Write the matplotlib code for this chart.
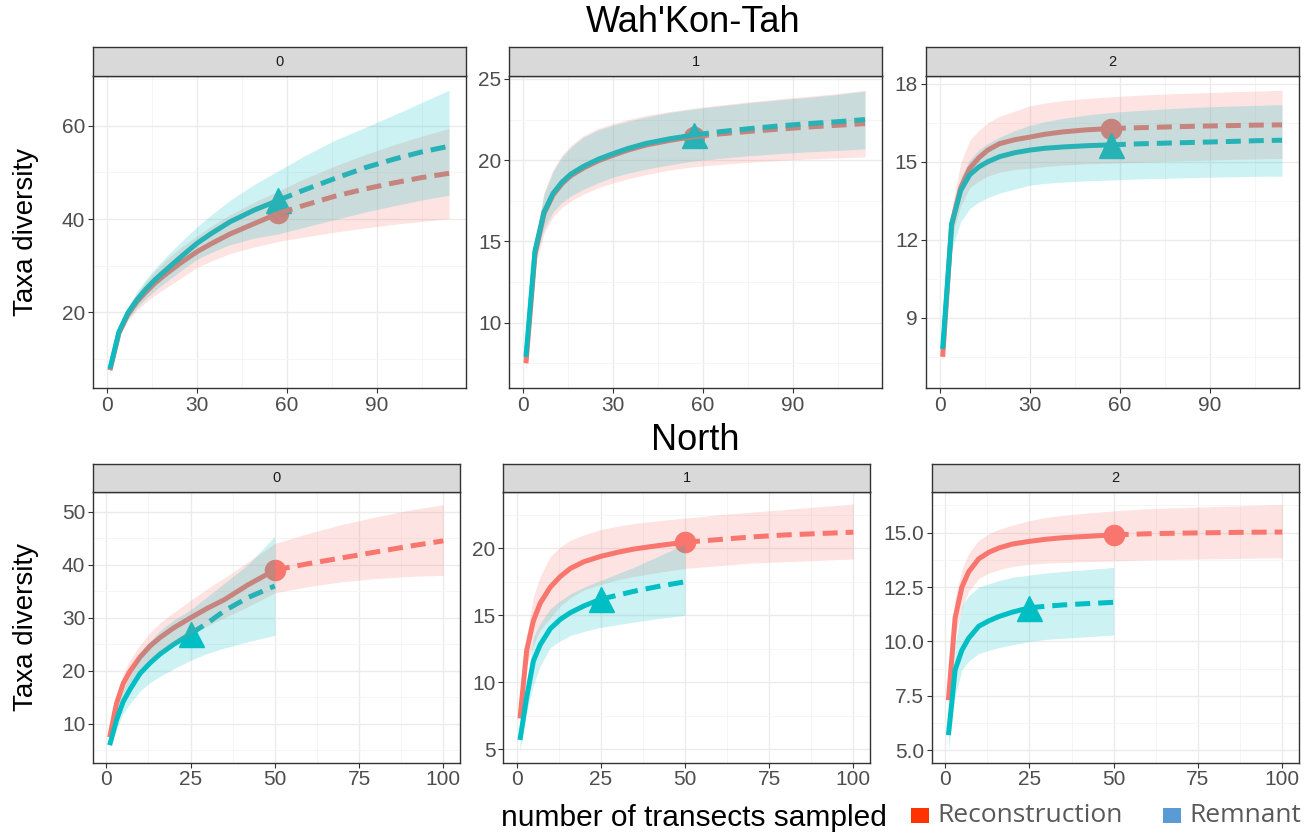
import matplotlib
matplotlib.use("Agg")
import matplotlib.pyplot as plt
from matplotlib.patches import Rectangle

plt.rcParams["font.family"] = ["Liberation Sans", "DejaVu Sans"]

REC_COL = "#F8766D"
REM_COL = "#00BFC4"

# Wah'Kon-Tah: both site types have 57 transects, extrapolated to 114
wkt_x = [1, 4, 7, 10, 13, 16, 20, 25, 30, 35, 41, 49, 57, 66, 76, 86, 96, 105, 114]
wkt_obs_rec = 57
wkt_obs_rem = 57

wkt0_rec = [7.6, 15.6, 19.6, 22.3, 24.4, 26.3, 28.4, 30.8, 33.0, 34.8, 36.8, 39.0, 41.2, 43.0, 44.9, 46.45, 47.8, 48.9, 49.8]
wkt0_rec_lo = [6.9, 14.8, 18.3, 20.5, 22.2, 23.7, 25.4, 27.5, 29.6, 31.1, 32.6, 34.0, 35.2, 36.2, 37.2, 38.1, 38.9, 39.5, 40.1]
wkt0_rec_hi = [7.8, 16.4, 20.9, 24.1, 26.6, 28.9, 31.4, 34.1, 36.4, 38.6, 40.9, 43.6, 46.0, 48.7, 51.4, 53.8, 56.0, 57.8, 59.4]
wkt0_rem = [7.9, 15.8, 19.9, 22.7, 25.0, 27.0, 29.3, 32.1, 34.8, 37.0, 39.4, 41.9, 44.0, 46.3, 48.7, 51.0, 52.9, 54.4, 55.6]
wkt0_rem_lo = [7.5, 15.0, 18.6, 21.0, 23.0, 24.7, 26.7, 29.1, 31.4, 32.9, 34.5, 35.9, 36.8, 38.3, 39.9, 41.5, 42.9, 44.1, 45.1]
wkt0_rem_hi = [8.1, 16.6, 21.2, 24.4, 27.1, 29.4, 32.1, 35.3, 38.3, 41.0, 44.0, 47.4, 50.3, 53.6, 56.9, 59.6, 62.4, 65.0, 67.6]

wkt1_rec = [7.5, 14.2, 16.7, 17.85, 18.55, 19.05, 19.5, 19.95, 20.3, 20.62, 20.93, 21.22, 21.45, 21.62, 21.78, 21.92, 22.05, 22.15, 22.25]
wkt1_rec_lo = [6.9, 13.4, 15.5, 16.5, 17.1, 17.5, 17.9, 18.3, 18.6, 18.85, 19.12, 19.4, 19.6, 19.74, 19.88, 20.0, 20.08, 20.14, 20.2]
wkt1_rec_hi = [7.6, 15.0, 18.0, 19.4, 20.3, 20.9, 21.5, 21.95, 22.25, 22.5, 22.75, 23.0, 23.2, 23.4, 23.6, 23.78, 23.95, 24.1, 24.3]
wkt1_rem = [7.9, 14.4, 16.8, 17.95, 18.65, 19.15, 19.6, 20.05, 20.4, 20.72, 21.03, 21.32, 21.55, 21.76, 21.95, 22.12, 22.26, 22.37, 22.5]
wkt1_rem_lo = [7.7, 13.8, 15.8, 16.8, 17.4, 17.8, 18.2, 18.6, 18.95, 19.2, 19.45, 19.72, 19.95, 20.12, 20.28, 20.41, 20.52, 20.6, 20.7]
wkt1_rem_hi = [8.0, 15.0, 17.9, 19.3, 20.2, 20.8, 21.4, 21.85, 22.15, 22.4, 22.65, 22.95, 23.15, 23.35, 23.55, 23.72, 23.88, 24.05, 24.25]

wkt2_rec = [7.5, 12.6, 14.0, 14.75, 15.15, 15.45, 15.7, 15.85, 15.95, 16.06, 16.15, 16.23, 16.28, 16.31, 16.34, 16.37, 16.39, 16.41, 16.42]
wkt2_rec_lo = [7.4, 12.1, 13.3, 14.0, 14.25, 14.45, 14.6, 14.7, 14.75, 14.82, 14.87, 14.92, 14.95, 14.98, 15.02, 15.05, 15.09, 15.11, 15.13]
wkt2_rec_hi = [7.6, 13.2, 14.95, 15.83, 16.2, 16.5, 16.75, 16.95, 17.15, 17.26, 17.35, 17.44, 17.5, 17.56, 17.61, 17.65, 17.69, 17.72, 17.75]
wkt2_rem = [7.8, 12.6, 13.9, 14.5, 14.8, 15.0, 15.2, 15.35, 15.45, 15.52, 15.57, 15.62, 15.65, 15.69, 15.72, 15.75, 15.78, 15.81, 15.83]
wkt2_rem_lo = [7.7, 11.6, 12.7, 13.2, 13.45, 13.62, 13.8, 13.95, 14.1, 14.17, 14.22, 14.27, 14.3, 14.34, 14.37, 14.4, 14.42, 14.44, 14.45]
wkt2_rem_hi = [7.9, 12.9, 14.4, 15.07, 15.45, 15.7, 15.95, 16.2, 16.4, 16.54, 16.67, 16.8, 16.9, 16.97, 17.04, 17.1, 17.14, 17.17, 17.2]

# North: 50 reconstruction transects, 25 remnant transects
north_rec_x = [1, 3, 5, 7, 10, 13, 16, 20, 25, 30, 35, 42, 50, 60, 70, 80, 90, 100]
north_rem_x = [1, 3, 5, 7, 10, 13, 16, 20, 25, 30, 35, 42, 50]
north_obs_rec = 50
north_obs_rem = 25

north0_rec = [7.5, 13.8, 17.6, 19.9, 22.6, 24.7, 26.3, 28.1, 30.0, 31.8, 33.4, 36.2, 39.0, 40.2, 41.3, 42.4, 43.5, 44.5]
north0_rec_lo = [7.3, 12.6, 15.8, 17.8, 20.3, 22.1, 23.5, 25.1, 26.9, 28.5, 30.0, 32.1, 34.7, 35.9, 36.8, 37.4, 37.8, 38.0]
north0_rec_hi = [7.7, 15.0, 19.4, 22.0, 24.9, 27.2, 29.1, 31.0, 33.3, 35.5, 37.5, 40.5, 44.0, 45.9, 47.6, 49.0, 50.3, 51.3]
north0_rem = [6.0, 10.7, 14.2, 16.5, 19.5, 21.5, 23.2, 25.0, 27.0, 29.0, 31.3, 33.8, 36.0]
north0_rem_lo = [5.8, 9.0, 12.0, 13.8, 16.2, 17.8, 19.0, 20.4, 22.0, 23.3, 24.3, 25.5, 26.7]
north0_rem_hi = [6.2, 12.4, 16.4, 19.2, 23.4, 25.6, 27.6, 29.6, 31.5, 34.0, 36.5, 40.0, 45.4]

north1_rec = [7.3, 12.4, 14.6, 15.9, 17.1, 17.9, 18.5, 19.0, 19.4, 19.7, 19.95, 20.2, 20.45, 20.65, 20.85, 21.0, 21.1, 21.2]
north1_rec_lo = [7.2, 11.3, 12.8, 13.9, 14.8, 15.7, 16.3, 16.9, 17.3, 17.65, 17.9, 18.2, 18.5, 18.7, 18.9, 19.0, 19.1, 19.2]
north1_rec_hi = [7.4, 13.5, 16.4, 17.9, 19.4, 20.1, 20.6, 21.0, 21.4, 21.65, 21.85, 22.05, 22.25, 22.5, 22.7, 22.9, 23.1, 23.3]
north1_rem = [5.7, 8.9, 11.6, 12.8, 14.0, 14.7, 15.2, 15.7, 16.2, 16.5, 16.8, 17.15, 17.5]
north1_rem_lo = [4.9, 7.8, 9.8, 11.2, 12.6, 13.1, 13.5, 13.8, 14.1, 14.3, 14.5, 14.75, 15.0]
north1_rem_hi = [5.8, 10.0, 13.4, 14.4, 15.5, 16.1, 16.6, 17.1, 17.6, 18.1, 18.6, 19.4, 20.3]

north2_rec = [7.3, 11.1, 12.5, 13.2, 13.8, 14.1, 14.3, 14.48, 14.6, 14.7, 14.77, 14.83, 14.9, 14.95, 14.98, 15.0, 15.02, 15.03]
north2_rec_lo = [7.2, 10.3, 11.5, 12.3, 12.9, 13.15, 13.3, 13.45, 13.55, 13.6, 13.63, 13.67, 13.7, 13.75, 13.78, 13.8, 13.83, 13.85]
north2_rec_hi = [7.4, 12.0, 13.3, 14.05, 14.65, 14.95, 15.15, 15.35, 15.55, 15.7, 15.8, 15.9, 16.0, 16.1, 16.15, 16.2, 16.25, 16.3]
north2_rem = [5.7, 8.7, 9.6, 10.15, 10.7, 10.95, 11.15, 11.35, 11.55, 11.62, 11.68, 11.74, 11.8]
north2_rem_lo = [5.0, 7.5, 8.7, 9.1, 9.45, 9.6, 9.72, 9.85, 10.0, 10.1, 10.15, 10.22, 10.3]
north2_rem_hi = [5.8, 9.9, 11.6, 12.1, 12.5, 12.65, 12.8, 12.95, 13.05, 13.15, 13.22, 13.3, 13.4]

facet_labels = ["0", "1", "2"]
site_titles = ["Wah'Kon-Tah", "North"]
legend_labels = ["Reconstruction", "Remnant"]

W, H = 1310, 836
fig = plt.figure(figsize=(W / 100, H / 100), dpi=100)


def px_box(x0, x1, ytop, ybot):
    return [x0 / W, 1 - ybot / H, (x1 - x0) / W, (ybot - ytop) / H]


# panel pixel boxes: (left, right) per column, (strip top, plot top, plot bottom) per row
cols_top = [(93, 466), (509, 882), (925.7, 1299)]
cols_bot = [(93, 460), (503.3, 870), (931.7, 1299)]
row_top = (47, 76, 388)
row_bot = (463.7, 492, 762.7)

panels = [
    dict(xs=(wkt_x, wkt_x), obs=(wkt_obs_rec, wkt_obs_rem),
         rec=(wkt0_rec, wkt0_rec_lo, wkt0_rec_hi), rem=(wkt0_rem, wkt0_rem_lo, wkt0_rem_hi),
         ylim=(3.8, 70.65), yt=[20, 40, 60], ym=[10, 30, 50, 70]),
    dict(xs=(wkt_x, wkt_x), obs=(wkt_obs_rec, wkt_obs_rem),
         rec=(wkt1_rec, wkt1_rec_lo, wkt1_rec_hi), rem=(wkt1_rem, wkt1_rem_lo, wkt1_rem_hi),
         ylim=(5.98, 25.18), yt=[10, 15, 20, 25], ym=[7.5, 12.5, 17.5, 22.5]),
    dict(xs=(wkt_x, wkt_x), obs=(wkt_obs_rec, wkt_obs_rem),
         rec=(wkt2_rec, wkt2_rec_lo, wkt2_rec_hi), rem=(wkt2_rem, wkt2_rem_lo, wkt2_rem_hi),
         ylim=(6.3, 18.3), yt=[9, 12, 15, 18], ym=[7.5, 10.5, 13.5, 16.5]),
    dict(xs=(north_rec_x, north_rem_x), obs=(north_obs_rec, north_obs_rem),
         rec=(north0_rec, north0_rec_lo, north0_rec_hi), rem=(north0_rem, north0_rem_lo, north0_rem_hi),
         ylim=(2.7, 53.7), yt=[10, 20, 30, 40, 50], ym=[5, 15, 25, 35, 45]),
    dict(xs=(north_rec_x, north_rem_x), obs=(north_obs_rec, north_obs_rem),
         rec=(north1_rec, north1_rec_lo, north1_rec_hi), rem=(north1_rem, north1_rem_lo, north1_rem_hi),
         ylim=(4.0, 24.2), yt=[5, 10, 15, 20], ym=[7.5, 12.5, 17.5, 22.5]),
    dict(xs=(north_rec_x, north_rem_x), obs=(north_obs_rec, north_obs_rem),
         rec=(north2_rec, north2_rec_lo, north2_rec_hi), rem=(north2_rem, north2_rem_lo, north2_rem_hi),
         ylim=(4.43, 16.87), yt=[5, 7.5, 10, 12.5, 15], ym=[6.25, 8.75, 11.25, 13.75, 16.25]),
]

LW = 3.6
DASH = (0, (3.0, 1.6))

for k, p in enumerate(panels):
    top = k < 3
    x0, x1 = (cols_top if top else cols_bot)[k % 3]
    strip_t, plot_t, plot_b = row_top if top else row_bot

    ax = fig.add_axes(px_box(x0, x1, plot_t, plot_b))
    series = [(p["xs"][0], p["obs"][0], p["rec"], REC_COL, "o", 14.5),
              (p["xs"][1], p["obs"][1], p["rem"], REM_COL, "^", 18)]

    # ggiNEXT layer order: points, then lines, then the ribbons on top
    for x, n, (y, lo, hi), col, mk, ms in series:
        i = x.index(n)
        ax.plot([x[i]], [y[i]], marker=mk, ms=ms, color=col, ls="none", zorder=2)
    for x, n, (y, lo, hi), col, mk, ms in series:
        i = x.index(n)
        ax.plot(x[:i + 1], y[:i + 1], color=col, lw=LW, solid_capstyle="butt",
                solid_joinstyle="round", zorder=3)
        ax.plot(x[i:], y[i:], color=col, lw=LW, ls=DASH, dash_capstyle="butt", zorder=3)
    for x, n, (y, lo, hi), col, mk, ms in series:
        ax.fill_between(x, lo, hi, color=col, alpha=0.2, lw=0, zorder=4)

    if top:
        ax.set_xlim(-4.65, 119.65)
        ax.set_xticks([0, 30, 60, 90])
        ax.set_xticks([15, 45, 75, 105], minor=True)
    else:
        ax.set_xlim(-3.95, 104.95)
        ax.set_xticks([0, 25, 50, 75, 100])
        ax.set_xticks([12.5, 37.5, 62.5, 87.5], minor=True)
    ax.set_ylim(*p["ylim"])
    ax.set_yticks(p["yt"])
    ax.set_yticks(p["ym"], minor=True)
    ax.set_yticklabels([f"{v:g}" if k != 5 else f"{v:.1f}" for v in p["yt"]])

    ax.grid(which="major", color="#EBEBEB", lw=1.0, zorder=0)
    ax.grid(which="minor", color="#F4F4F4", lw=0.6, zorder=0)
    ax.set_axisbelow(True)
    for s in ax.spines.values():
        s.set_color("#333333")
        s.set_linewidth(1.0)
    ax.tick_params(which="major", length=3.5, width=0.8, color="#333333",
                   labelsize=15, labelcolor="#4D4D4D", pad=2)
    ax.tick_params(which="minor", length=0)

    # facet strip
    sax = fig.add_axes(px_box(x0, x1, strip_t, plot_t))
    sax.set_facecolor("#D9D9D9")
    sax.set_xticks([])
    sax.set_yticks([])
    for s in sax.spines.values():
        s.set_color("#333333")
        s.set_linewidth(1.0)
    sax.text(0.5, 0.5, facet_labels[k % 3], ha="center", va="center",
             fontsize=10.5, color="#1A1A1A", transform=sax.transAxes)

fig.text(693 / W, 1 - 23 / H, site_titles[0], ha="center", va="center", fontsize=26)
fig.text(695 / W, 1 - 440 / H, site_titles[1], ha="center", va="center", fontsize=26)

for yc in (232, 627):
    fig.text(26 / W, 1 - yc / H, "Taxa diversity", rotation=90,
             ha="center", va="center", fontsize=20)

fig.text(694 / W, 1 - 818 / H, "number of transects sampled",
         ha="center", va="center", fontsize=21.5)

# legend along the bottom edge
leg_cols = ["#FF3300", "#5B9BD5"]
leg_x = [911, 1163]
for lx, col, lab in zip(leg_x, leg_cols, legend_labels):
    fig.add_artist(Rectangle((lx / W, 1 - 823 / H), 17.5 / W, 15.5 / H,
                             transform=fig.transFigure, color=col, lw=0))
    fig.text((lx + 26) / W, 1 - 815 / H, lab, ha="left", va="center",
             fontsize=19, color="#595959", family=["Open Sans", "DejaVu Sans"])

fig.savefig("out.png", dpi=100)
